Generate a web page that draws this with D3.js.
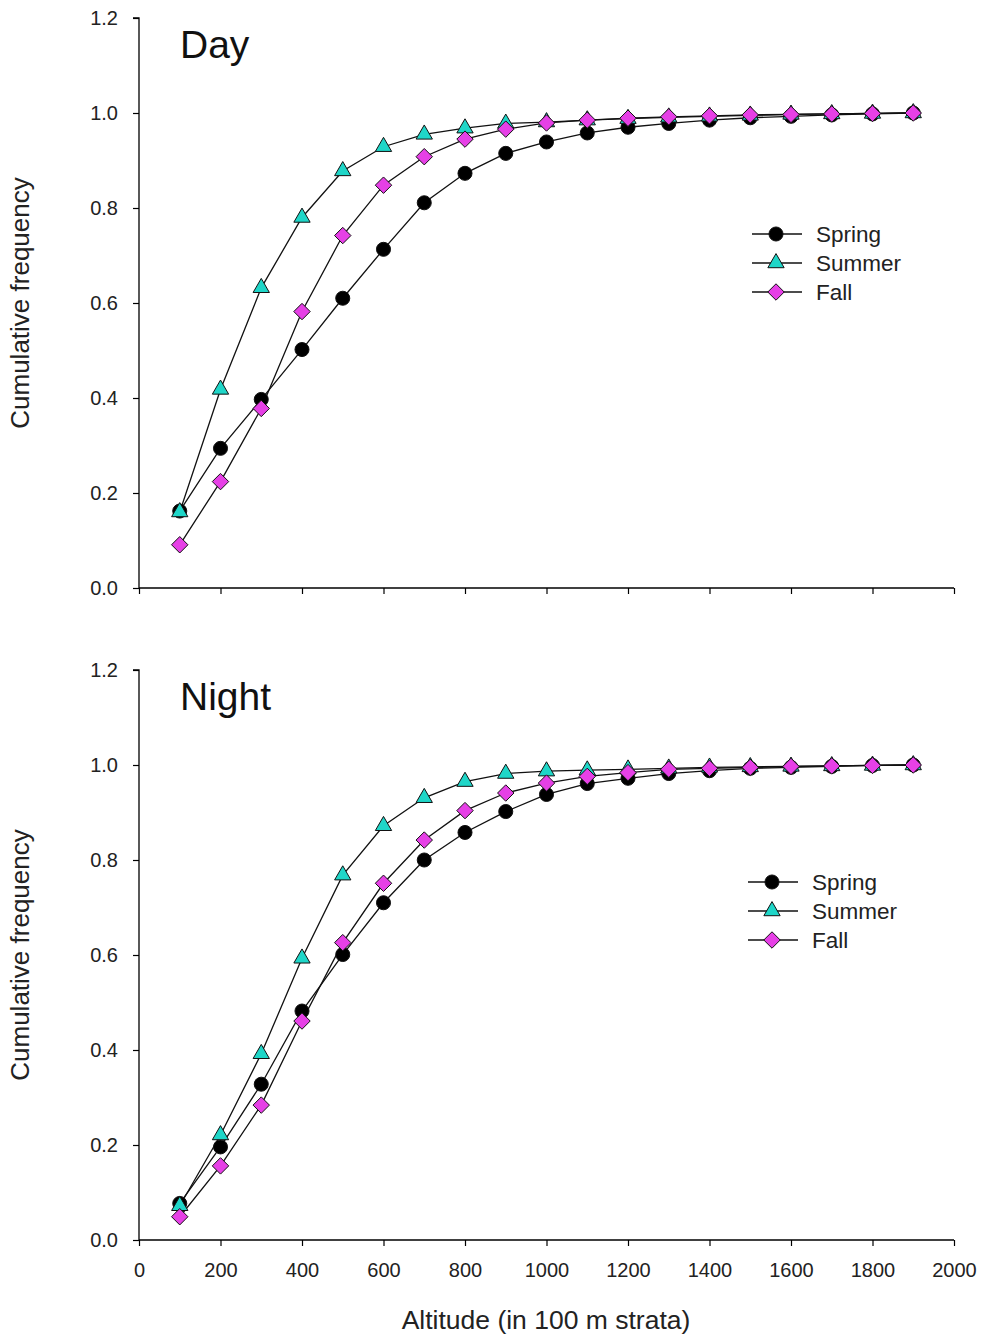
<!DOCTYPE html>
<html><head><meta charset="utf-8">
<script src="https://cdn.jsdelivr.net/npm/d3@7"></script>
<style>body{margin:0;background:#fff;} svg{display:block;font-family:"Liberation Sans",Arial,sans-serif;}</style>
</head><body>
<svg id="c" width="983" height="1336"></svg>
<script>
const altitudes = [100,200,300,400,500,600,700,800,900,1000,1100,1200,1300,1400,1500,1600,1700,1800,1900];
const seriesNames = ["Spring","Summer","Fall"];
const daySpring = [0.162,0.294,0.397,0.502,0.610,0.713,0.811,0.873,0.915,0.939,0.958,0.970,0.978,0.985,0.990,0.993,0.996,0.998,1.0];
const daySummer = [0.160,0.418,0.632,0.780,0.878,0.929,0.955,0.968,0.978,0.981,0.985,0.988,0.991,0.993,0.995,0.997,0.998,0.999,1.0];
const dayFall   = [0.091,0.224,0.378,0.582,0.742,0.848,0.908,0.945,0.966,0.979,0.985,0.989,0.992,0.994,0.996,0.997,0.998,0.999,1.0];
const nightSpring = [0.077,0.196,0.328,0.482,0.601,0.710,0.800,0.858,0.902,0.938,0.961,0.972,0.982,0.988,0.993,0.995,0.997,0.999,1.0];
const nightSummer = [0.072,0.221,0.392,0.593,0.768,0.872,0.931,0.965,0.982,0.987,0.989,0.991,0.993,0.995,0.996,0.997,0.998,0.999,1.0];
const nightFall   = [0.049,0.156,0.284,0.461,0.626,0.751,0.842,0.904,0.941,0.962,0.976,0.984,0.991,0.993,0.995,0.997,0.998,0.999,1.0];
const xTicks = [0,200,400,600,800,1000,1200,1400,1600,1800,2000];
const yTicks = [0.0,0.2,0.4,0.6,0.8,1.0,1.2];

const svg = d3.select("#c");
const x = d3.scaleLinear().domain([0,2000]).range([139,954]);
const squareDiamond = {draw(ctx,size){const r=Math.sqrt(size/2);ctx.moveTo(0,-r);ctx.lineTo(r,0);ctx.lineTo(0,r);ctx.lineTo(-r,0);ctx.closePath();}};
const styles = {
  Spring:{sym:d3.symbolCircle,size:155,fill:"#000"},
  Summer:{sym:d3.symbolTriangle,size:115,fill:"#1fd6c8"},
  Fall:{sym:squareDiamond,size:135,fill:"#e640e6"}
};
const FONT = "Liberation Sans, Arial, sans-serif";

function panel(top, bottom, title, data, showXLabels, legend){
  const y = d3.scaleLinear().domain([0,1.2]).range([bottom,top]);
  const g = svg.append("g");
  const ya = g.append("g").attr("transform",`translate(${x(0)},0)`)
    .call(d3.axisLeft(y).tickValues(yTicks).tickFormat(d3.format(".1f")).tickSize(6).tickPadding(15));
  ya.select(".domain").attr("stroke","#000").attr("stroke-width",1.3).attr("d",`M-6,${y(1.2)}H0V${y(0)}`);
  ya.selectAll("text").attr("font-size",20).attr("fill","#222").attr("font-family",FONT);
  ya.selectAll("line").attr("stroke-width",1.2);
  const xa = g.append("g").attr("transform",`translate(0,${bottom})`)
    .call(d3.axisBottom(x).tickValues(xTicks).tickSize(6).tickPadding(17).tickFormat(showXLabels? d3.format("d") : ""));
  xa.select(".domain").attr("stroke-width",1.3).attr("d",`M${x(0)},0H${x(2000)}`);
  xa.selectAll("text").attr("font-size",20).attr("fill","#222").attr("font-family",FONT);
  xa.selectAll("line").attr("stroke-width",1.2);
  g.append("text").attr("transform",`translate(29,${(y(0)+y(1.2))/2}) rotate(-90)`)
    .attr("text-anchor","middle").attr("font-size",26).attr("fill","#222").text("Cumulative frequency");
  g.append("text").attr("x",180).attr("y",top+40).attr("font-size",39).attr("fill","#111").text(title);
  const line = d3.line().x((d,i)=>x(altitudes[i])).y(d=>y(d));
  seriesNames.forEach((name,k)=>{
    g.append("path").datum(data[k]).attr("d",line).attr("fill","none").attr("stroke","#111").attr("stroke-width",1.3);
  });
  seriesNames.forEach((name,k)=>{
    const st = styles[name];
    g.selectAll(null).data(data[k]).enter().append("path")
      .attr("transform",(d,i)=>`translate(${x(altitudes[i])},${y(d)})`)
      .attr("d",d3.symbol().type(st.sym).size(st.size)())
      .attr("fill",st.fill).attr("stroke","#111").attr("stroke-width",1);
  });
  seriesNames.forEach((name,k)=>{
    const st = styles[name];
    const ly = legend.y + k*29;
    g.append("line").attr("x1",legend.x).attr("x2",legend.x+50).attr("y1",ly).attr("y2",ly).attr("stroke","#111").attr("stroke-width",1.3);
    g.append("path").attr("transform",`translate(${legend.x+24},${ly})`)
      .attr("d",d3.symbol().type(st.sym).size(st.size)()).attr("fill",st.fill).attr("stroke","#111").attr("stroke-width",1);
    g.append("text").attr("x",legend.x+64).attr("y",ly+8).attr("font-size",22.5).attr("fill","#222").text(name);
  });
}
panel(18,588,"Day",[daySpring,daySummer,dayFall],false,{x:752,y:234});
panel(670,1240,"Night",[nightSpring,nightSummer,nightFall],true,{x:748,y:882});
svg.append("text").attr("x",546).attr("y",1329).attr("text-anchor","middle").attr("font-size",26.5).attr("fill","#222").text("Altitude (in 100 m strata)");
</script>
</body></html>
